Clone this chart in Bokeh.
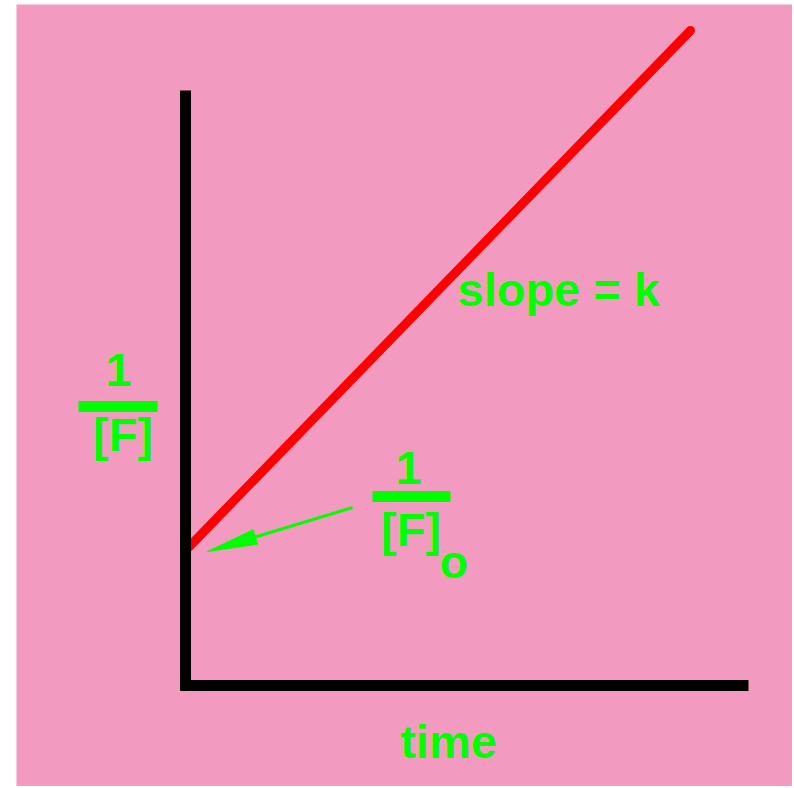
import numpy as np
from bokeh.plotting import figure
from bokeh.models import Range1d
from bokeh.core.properties import value
from bokeh.embed import file_html
from bokeh.resources import INLINE

# ---- data (abstract units: time vs 1/[F]) ----
time = [0.0, 50.5]
inv_F = [13.5, 65.5]                # 1/[F]0 intercept, rises with slope k

axis_x_end = 56.3
axis_y_end = 59.5

arrow_tail = [16.7, 17.8]
arrow_tip = [2.2, 13.4]

# labels (text, x, baseline y)
lbl_left_num = ("1", -6.7, 30.0)
lbl_left_den = ("[F]", -6.25, 23.5)
lbl_left_bar = (-10.7, -2.8, 27.9)
lbl_right_num = ("1", 22.3, 20.2)
lbl_right_den = ("[F]", 22.55, 14.0)
lbl_right_sub = ("o", 25.4, 10.8)
lbl_right_bar = (18.7, 26.5, 18.9)
lbl_slope = ("slope = k", 27.2, 38.0)
lbl_time = ("time", 26.3, -7.2)

PINK = "#F39AC0"
GREEN = "#00FF00"
FONT = value("Liberation Sans")
FS = value("47px")
TEXT_DY = 1.6   # renderer baseline correction

p = figure(width=792, height=786, output_backend="svg", toolbar_location=None,
           x_range=Range1d(-16.9, 60.7), y_range=Range1d(-10.1, 68.1),
           min_border_left=16, min_border_right=0, min_border_top=4, min_border_bottom=0)
p.background_fill_color = PINK
p.border_fill_color = "white"
p.outline_line_color = None
p.axis.visible = False
p.grid.visible = False

# red line
p.line(time, inv_F, line_color="#FF0000", line_width=9, line_cap="round")

# axes
p.segment(x0=[0, -0.5], y0=[-0.5, 0], x1=[0, axis_x_end], y1=[axis_y_end, 0],
          line_color="black", line_width=11, line_cap="butt")

# arrow
tail = np.array(arrow_tail)
tip = np.array(arrow_tip)
d = (tail - tip) / np.linalg.norm(tail - tip)
n = np.array([-d[1], d[0]])
head_len, head_half = 5.0, 0.75
base = tip + d * head_len
p.segment(x0=[tail[0]], y0=[tail[1]], x1=[base[0] - d[0] * 0.5], y1=[base[1] - d[1] * 0.5],
          line_color=GREEN, line_width=3)
hx = [tip[0], base[0] + n[0] * head_half, base[0] - n[0] * head_half]
hy = [tip[1], base[1] + n[1] * head_half, base[1] - n[1] * head_half]
p.patch(hx, hy, fill_color=GREEN, line_color=GREEN, line_width=1)

# fraction bars
for x0, x1, y in (lbl_left_bar, lbl_right_bar):
    p.segment(x0=[x0], y0=[y], x1=[x1], y1=[y], line_color=GREEN, line_width=11, line_cap="butt")

def txt(lbl, align):
    t, x, y = lbl
    p.text(x=[x], y=[y + TEXT_DY], text=[t], text_color=GREEN, text_font=FONT, text_font_size=FS,
           text_font_style="bold", text_align=align, text_baseline="alphabetic")

txt(lbl_left_num, "center")
txt(lbl_left_den, "center")
txt(lbl_right_num, "center")
txt(lbl_right_den, "center")
txt(lbl_right_sub, "left")
txt(lbl_slope, "left")
txt(lbl_time, "center")

open("out.html", "w").write(file_html(p, INLINE))
